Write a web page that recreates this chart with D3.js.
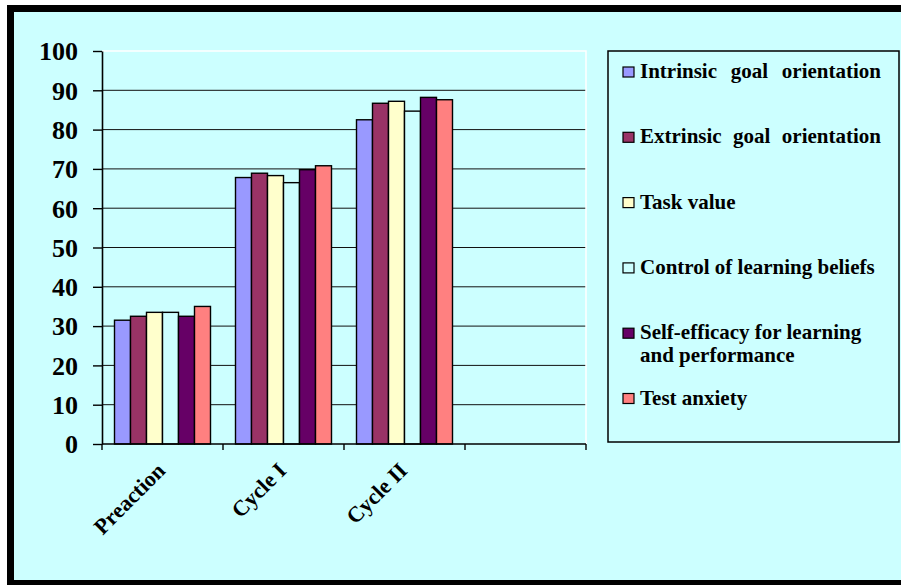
<!DOCTYPE html>
<html>
<head>
<meta charset="utf-8">
<script src="https://cdn.jsdelivr.net/npm/d3@7"></script>
<style>
  html, body { margin: 0; padding: 0; background: #ffffff; }
  svg { display: block; }
</style>
</head>
<body>
<svg id="chart" width="901" height="585"></svg>
<script>
// Survey scores per phase (the fourth category slot is left empty)
const categories = ["Preaction", "Cycle I", "Cycle II", ""];
const seriesNames = [
  "Intrinsic goal orientation",
  "Extrinsic goal orientation",
  "Task value",
  "Control of learning beliefs",
  "Self-efficacy for learning and performance",
  "Test anxiety"
];
const intrinsicGoal  = [31.5, 67.8, 82.5];
const extrinsicGoal  = [32.5, 68.9, 86.7];
const taskValue      = [33.5, 68.3, 87.2];
const controlBeliefs = [33.5, 66.5, 84.7];
const selfEfficacy   = [32.5, 69.8, 88.2];
const testAnxiety    = [35.0, 70.8, 87.6];
const yTicks = [0, 10, 20, 30, 40, 50, 60, 70, 80, 90, 100];

// Legend text, with the long entry wrapped onto two lines
const legendLines = [
  ["Intrinsic goal orientation"],
  ["Extrinsic goal orientation"],
  ["Task value"],
  ["Control of learning beliefs"],
  ["Self-efficacy for learning", "and performance"],
  ["Test anxiety"]
];

const seriesValues = [intrinsicGoal, extrinsicGoal, taskValue, controlBeliefs, selfEfficacy, testAnxiety];
const colors = ["#9999FF", "#993366", "#FFFFCC", "#CCFFFF", "#660066", "#FF8080"];
const bg = "#CCFFFF";

// Bold serif text helper, applied on every text node
function serifText(sel, size) {
  return sel
    .attr("font-family", "Liberation Serif")
    .attr("font-weight", "bold")
    .attr("font-size", size)
    .attr("fill", "#000");
}

const svg = d3.select("#chart");

// Chart area and its heavy black frame
svg.append("rect").attr("x", 14).attr("y", 12).attr("width", 887).attr("height", 568).attr("fill", bg);
svg.append("rect").attr("x", 7).attr("y", 5).attr("width", 7).attr("height", 580).attr("fill", "#000");
svg.append("rect").attr("x", 7).attr("y", 5).attr("width", 894).attr("height", 7).attr("fill", "#000");
svg.append("rect").attr("x", 7).attr("y", 580).attr("width", 894).attr("height", 5).attr("fill", "#000");

// Scales
const x = d3.scaleBand().domain(categories).range([102, 586]);
const y = d3.scaleLinear().domain([0, 100]).range([444, 51]);
const inner = d3.scaleBand().domain(d3.range(seriesNames.length))
  .range([12.5, x.bandwidth() - 12.5]);

// Gridlines
svg.append("g").selectAll("line")
  .data(yTicks.filter(t => t > 0 && t < 100))
  .join("line")
  .attr("x1", 102).attr("x2", 586)
  .attr("y1", d => y(d)).attr("y2", d => y(d))
  .attr("stroke", "#111").attr("stroke-width", 1);

// White plot-area edge on top and right
svg.append("path")
  .attr("d", `M${x.range()[0]},${y(100)}H${x.range()[1]}V${y(0)}`)
  .attr("fill", "none").attr("stroke", "#ffffff").attr("stroke-width", 1.5);

// Bars
const rows = [];
seriesValues.forEach((vals, si) => {
  vals.forEach((v, ci) => rows.push({ si, cat: categories[ci], v }));
});
svg.append("g").selectAll("rect")
  .data(rows)
  .join("rect")
  .attr("x", d => x(d.cat) + inner(d.si))
  .attr("width", inner.bandwidth())
  .attr("y", d => y(d.v))
  .attr("height", d => y(0) - y(d.v))
  .attr("fill", d => colors[d.si])
  .attr("stroke", "#000").attr("stroke-width", 1.4);

// Y axis
const yAxis = svg.append("g")
  .attr("transform", `translate(${x.range()[0]},0)`)
  .call(d3.axisLeft(y).tickValues(yTicks).tickSize(9).tickSizeOuter(0).tickPadding(15));
yAxis.select(".domain").attr("stroke", "#000").attr("stroke-width", 1.6);
yAxis.selectAll(".tick line").attr("stroke", "#000").attr("stroke-width", 1.4);
serifText(yAxis.selectAll(".tick text"), 26).attr("dy", "0.34em");

// X axis with ticks on category boundaries
const xa = svg.append("g");
xa.append("line")
  .attr("x1", x.range()[0]).attr("x2", x.range()[1])
  .attr("y1", y(0)).attr("y2", y(0))
  .attr("stroke", "#000").attr("stroke-width", 1.6);
const bounds = categories.map(c => x(c)).concat([x.range()[1]]);
xa.selectAll("line.tk")
  .data(bounds)
  .join("line")
  .attr("class", "tk")
  .attr("x1", d => d).attr("x2", d => d)
  .attr("y1", y(0)).attr("y2", y(0) + 6)
  .attr("stroke", "#000").attr("stroke-width", 1.4);
serifText(xa.selectAll("text")
  .data(categories.filter(c => c !== ""))
  .join("text"), 22)
  .attr("text-anchor", "end")
  .attr("transform", d => `translate(${x(d) + x.bandwidth() / 2 + 4},${y(0) + 28}) rotate(-45)`)
  .text(d => d);

// Legend
const lg = svg.append("g");
lg.append("rect")
  .attr("x", 608).attr("y", 51).attr("width", 291).attr("height", 391)
  .attr("fill", bg).attr("stroke", "#000").attr("stroke-width", 1.5);
const items = lg.selectAll("g.item")
  .data(legendLines)
  .join("g")
  .attr("class", "item")
  .attr("transform", (d, i) => `translate(0,${78 + 65.3 * i})`);
items.append("rect")
  .attr("x", 623).attr("y", -11).attr("width", 11).attr("height", 10)
  .attr("fill", (d, i) => colors[i])
  .attr("stroke", "#000").attr("stroke-width", 1.2);
const textLeft = 640, justifyRight = 881;
items.each(function (lines, i) {
  lines.forEach((line, j) => {
    const t = serifText(d3.select(this).append("text"), 21)
      .attr("x", textLeft)
      .attr("y", j * 23)
      .text(line);
    // The first two entries are spread to the full legend line width
    if (i < 2) {
      const gaps = line.split(" ").length - 1;
      const extra = (justifyRight - textLeft - t.node().getComputedTextLength()) / gaps;
      if (extra > 0) t.attr("word-spacing", extra);
    }
  });
});
</script>
</body>
</html>
